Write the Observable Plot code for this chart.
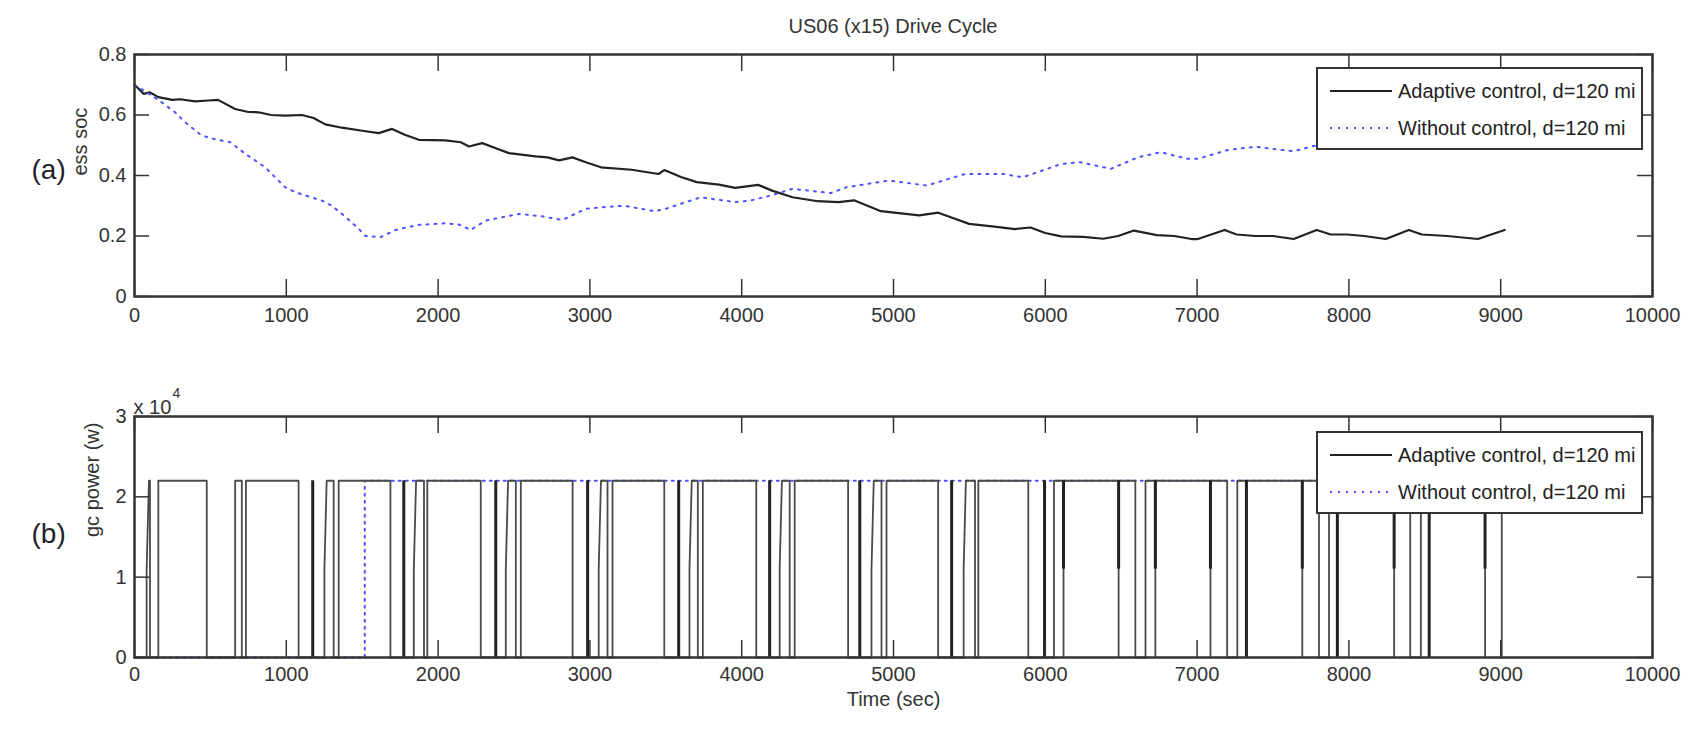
<!DOCTYPE html>
<html><head><meta charset="utf-8">
<script src="https://cdn.jsdelivr.net/npm/d3@7"></script>
<script src="https://cdn.jsdelivr.net/npm/@observablehq/plot@0.6"></script>
<style>
body{margin:0;background:#fff;}
#wrap{position:relative;width:1695px;height:731px;overflow:hidden;background:#fff;
  font-family:"Liberation Sans",Arial,sans-serif;color:#333;}
#wrap svg{position:absolute;left:0;}
.title{position:absolute;top:12px;left:693px;width:400px;text-align:center;font-size:20px;line-height:28px;color:#333;}
.legend{position:absolute;left:1316px;width:323px;height:79px;border:2px solid #333;background:#fff;}
.legend .row{position:absolute;left:0;height:28px;width:100%;}
.legend .sw{position:absolute;left:12px;width:62px;top:13px;height:2px;}
.legend .lbl{position:absolute;left:80px;top:0;font-size:20px;line-height:28px;color:#222;white-space:nowrap;}
</style></head><body><div id="wrap"></div>
<script>
const FONT = '"Liberation Sans",Arial,sans-serif';
const LABEL_FONT = '"Liberation Sans",Arial,sans-serif';

// ---------- data ----------
const title = "US06 (x15) Drive Cycle";
const seriesNames = ["Adaptive control, d=120 mi", "Without control, d=120 mi"];
const xTicks = [0,1000,2000,3000,4000,5000,6000,7000,8000,9000,10000];
const socTicks = [0,0.2,0.4,0.6,0.8];
const socTickLabels = ["0","0.2","0.4","0.6","0.8"];
const gcTicks = [0,10000,20000,30000];
const gcTickLabels = ["0","1","2","3"];

// (a) ess soc, adaptive control
const socAdaptiveT = [0,60,100,157,250,300,400,487,550,663,750,817,900,993,1103,1180,1257,1367,1500,1609,1697,1780,1873,2049,2150,2203,2291,2380,2467,2643,2720,2797,2885,2973,3073,3275,3452,3490,3600,3704,3850,3957,4108,4200,4335,4500,4639,4740,4917,5050,5169,5295,5400,5498,5650,5801,5902,6000,6104,6250,6382,6480,6584,6735,6850,6963,7005,7181,7260,7383,7500,7636,7788,7880,7990,8100,8243,8395,8480,8647,8750,8850,9026];
const socAdaptiveV = [0.70,0.67,0.675,0.659,0.65,0.652,0.645,0.648,0.65,0.62,0.61,0.609,0.60,0.598,0.60,0.59,0.569,0.558,0.548,0.54,0.554,0.535,0.518,0.516,0.51,0.496,0.507,0.49,0.474,0.463,0.46,0.45,0.46,0.444,0.427,0.419,0.405,0.418,0.395,0.378,0.37,0.359,0.369,0.35,0.328,0.315,0.312,0.318,0.282,0.275,0.268,0.277,0.258,0.24,0.232,0.223,0.228,0.21,0.199,0.197,0.191,0.20,0.218,0.203,0.20,0.19,0.19,0.22,0.205,0.20,0.20,0.19,0.22,0.205,0.205,0.20,0.19,0.22,0.205,0.20,0.195,0.19,0.22];

// (a) ess soc, without control
const socNoCtrlT = [0,157,267,333,443,530,630,729,861,993,1060,1125,1235,1300,1367,1477,1521,1620,1719,1873,2049,2137,2214,2313,2423,2533,2687,2819,2973,3073,3225,3427,3500,3730,3957,4058,4200,4335,4588,4689,4967,5220,5472,5725,5851,6104,6230,6432,6609,6760,6937,7005,7207,7383,7636,7788,8000,8200,8400,8600,8800,9000];
const socNoCtrlV = [0.70,0.65,0.609,0.576,0.532,0.52,0.51,0.472,0.427,0.361,0.345,0.334,0.317,0.30,0.273,0.224,0.20,0.196,0.22,0.237,0.242,0.238,0.22,0.251,0.262,0.273,0.265,0.253,0.29,0.295,0.30,0.282,0.29,0.328,0.312,0.317,0.335,0.356,0.342,0.361,0.383,0.367,0.405,0.405,0.394,0.438,0.444,0.422,0.46,0.477,0.455,0.455,0.485,0.495,0.48,0.50,0.51,0.52,0.51,0.53,0.54,0.53];

// (b) gc power, adaptive control: on-periods (start, end, ramp end or null)
const gcLevel = 22000;
const gcRampLevel = 11000;
const gcOnStart = [80,157,663,734,1251,1345,1840,1929,2446,2545,3058,3149,3656,3744,4250,4349,4855,4954,5462,5559,6057,6660,7265,7869,8474];
const gcOnEnd   = [102,476,707,1081,1312,1686,1907,2281,2512,2886,3116,3490,3711,4096,4316,4701,4921,5294,5537,5888,6593,7198,7803,8404,9007];
const gcRampEnd = [95,null,null,null,1266,null,1855,null,2461,null,3073,null,3671,null,4265,null,4870,null,5477,null,null,null,null,null,null];
// bursts of switching drawn as thick strokes
const gcSpikes = [1174,1774,2380,2985,3585,4184,4778,5383,5995,7325,7924,8529];
const gcDips = [6120,6483,6725,7088,7693,8298,8897];

// (b) gc power, without control
const gcNoCtrlT = [0,1517,1517,9000];
const gcNoCtrlP = [0,0,gcLevel,gcLevel];

// ---------- build tables ----------
const socA = socAdaptiveT.map((t,i)=>({t, v: socAdaptiveV[i]}));
const socN = socNoCtrlT.map((t,i)=>({t, v: socNoCtrlV[i]}));
const gcA = [{t:0,p:0}];
gcOnStart.forEach((s,i)=>{
  gcA.push({t:s,p:0});
  if (gcRampEnd[i] != null) { gcA.push({t:s,p:gcRampLevel}); gcA.push({t:gcRampEnd[i],p:gcLevel}); }
  else gcA.push({t:s,p:gcLevel});
  gcA.push({t:gcOnEnd[i],p:gcLevel});
  gcA.push({t:gcOnEnd[i],p:0});
});
const gcN = gcNoCtrlT.map((t,i)=>({t, p: gcNoCtrlP[i]}));

// ---------- layout ----------
const W = 1695, mL = 134, mR = 43;
const innerW = W - mL - mR;
const hA = 340, mTA = 54, mBA = 44, innerHA = hA - mTA - mBA;
const hB = 371, mTB = 56, mBB = 74, innerHB = hB - mTB - mBB, topB = 360;
const XT = 17, YT = 15;
const black = "#222", gray = "#4a4a4a", blue = "#5050ff", frameC = "#333";

function frameMarks(yTicks, yLabels, innerH, pad) {
  return [
    Plot.ruleX(xTicks, {x: d=>d, insetTop: innerH - XT, stroke: frameC, strokeWidth: 1.5}),
    Plot.ruleX(xTicks, {x: d=>d, insetBottom: innerH - XT, stroke: frameC, strokeWidth: 1.5}),
    Plot.ruleY(yTicks, {y: d=>d, insetRight: innerW - YT, stroke: frameC, strokeWidth: 1.5}),
    Plot.ruleY(yTicks, {y: d=>d, insetLeft: innerW - YT, stroke: frameC, strokeWidth: 1.5}),
    Plot.frame({stroke: frameC, strokeWidth: 2.5}),
    Plot.axisX({ticks: xTicks, tickSize: 0, tickPadding: pad, tickFormat: d=>String(d), label: null}),
    Plot.axisY({ticks: yTicks, tickSize: 0, tickPadding: 8, tickFormat: d=>yLabels[yTicks.indexOf(d)], label: null})
  ];
}

const plotA = Plot.plot({
  width: W, height: hA, marginLeft: mL, marginRight: mR, marginTop: mTA, marginBottom: mBA,
  x: {domain: [0,10000]}, y: {domain: [0,0.8]},
  style: {fontFamily: FONT, fontSize: "20px", color: "#333", background: "transparent", overflow: "visible"},
  marks: [
    Plot.line(socA, {x: "t", y: "v", stroke: black, strokeWidth: 2.2}),
    Plot.line(socN, {x: "t", y: "v", stroke: blue, strokeWidth: 2, strokeDasharray: "2 6"}),
    ...frameMarks(socTicks, socTickLabels, innerHA, 11),
    Plot.text(["ess soc"], {text: d=>d, frameAnchor: "left", dx: -54, rotate: -90, fill: "#333"}),
    Plot.text(["(a)"], {text: d=>d, frameAnchor: "left", dx: -103, dy: -5, fontSize: 28, fontFamily: LABEL_FONT, fill: "#23232e"})
  ]
});
plotA.style.top = "0px";

const plotB = Plot.plot({
  width: W, height: hB, marginLeft: mL, marginRight: mR, marginTop: mTB, marginBottom: mBB,
  x: {domain: [0,10000]}, y: {domain: [0,30000]},
  style: {fontFamily: FONT, fontSize: "20px", color: "#333", background: "transparent", overflow: "visible"},
  marks: [
    Plot.line(gcN, {x: "t", y: "p", stroke: blue, strokeWidth: 2, strokeDasharray: "2 5"}),
    Plot.line(gcA, {x: "t", y: "p", stroke: gray, strokeWidth: 1.8}),
    Plot.ruleX(gcSpikes, {x: d=>d, y1: 0, y2: gcLevel, stroke: black, strokeWidth: 3}),
    Plot.ruleX(gcDips, {x: d=>d, y1: 0, y2: gcLevel, stroke: gray, strokeWidth: 1.8}),
    Plot.ruleX(gcDips, {x: d=>d, y1: gcRampLevel, y2: gcLevel, stroke: black, strokeWidth: 3}),
    ...frameMarks(gcTicks, gcTickLabels, innerHB, 9),
    Plot.text(["gc power (w)"], {text: d=>d, frameAnchor: "left", dx: -42, rotate: -90, fill: "#333"}),
    Plot.text(["(b)"], {text: d=>d, frameAnchor: "left", dx: -103, dy: -3, fontSize: 28, fontFamily: LABEL_FONT, fill: "#23232e"}),
    Plot.text(["x 10"], {text: d=>d, frameAnchor: "top-left", dx: -1, dy: -17, textAnchor: "start", fill: "#333"}),
    Plot.text(["4"], {text: d=>d, frameAnchor: "top-left", dx: 38, dy: -28, textAnchor: "start", fontSize: 14, fill: "#333"}),
    Plot.text(["Time (sec)"], {text: d=>d, frameAnchor: "bottom", dy: 48, fill: "#333"})
  ]
});
plotB.style.top = topB + "px";

const wrap = document.getElementById("wrap");
wrap.appendChild(plotA);
wrap.appendChild(plotB);

const t = document.createElement("div");
t.className = "title"; t.textContent = title;
wrap.appendChild(t);

function legend(top) {
  const lg = document.createElement("div");
  lg.className = "legend"; lg.style.top = top + "px";
  seriesNames.forEach((name, i) => {
    const row = document.createElement("div");
    row.className = "row"; row.style.top = (i === 0 ? 8 : 45) + "px";
    const sw = document.createElement("div"); sw.className = "sw";
    sw.style.background = i === 0 ? black
      : "repeating-linear-gradient(to right," + blue + " 0 2px, transparent 2px 8px)";
    const lb = document.createElement("div"); lb.className = "lbl"; lb.textContent = name;
    row.appendChild(sw); row.appendChild(lb); lg.appendChild(row);
  });
  wrap.appendChild(lg);
}
legend(67);
legend(431);
</script></body></html>
